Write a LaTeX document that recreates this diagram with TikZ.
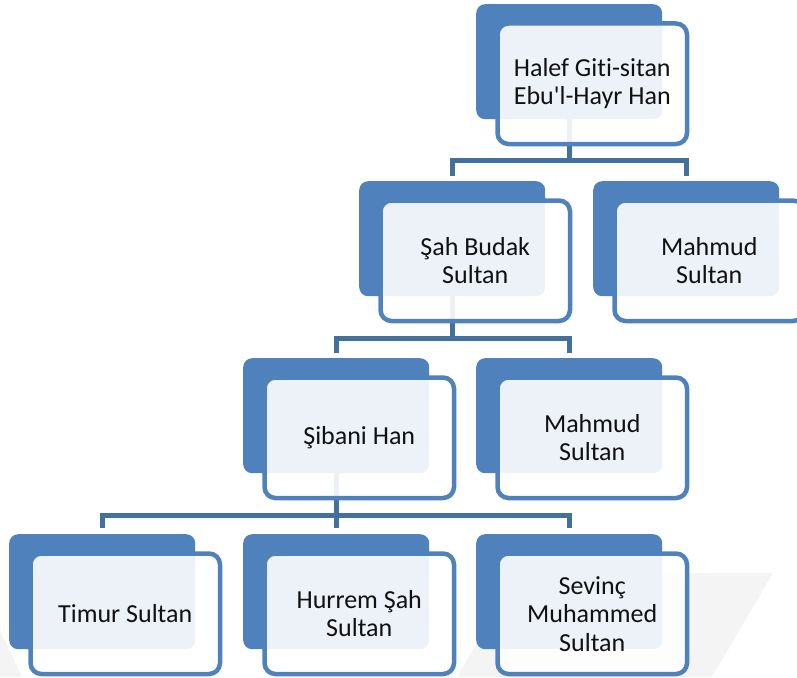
\documentclass[tikz,border=0pt]{standalone}
\usepackage{fontspec}
\setmainfont{Carlito}[Ligatures=CommonOff]
\usetikzlibrary{calc}
\definecolor{acc}{HTML}{4F81BD}
\definecolor{conncol}{HTML}{41719C}
\definecolor{wm}{HTML}{F4F4F4}
\definecolor{txt}{HTML}{111111}
\pgfdeclarelayer{background}
\pgfsetlayers{background,main}
\newcommand\sqapos{\XeTeXglyph\XeTeXcharglyph"0027\relax}
\newcommand\famnode[4]{%
  \node[backbox] (#1) at (#2,#3) {};
  \node[frontbox] (#1f) at ($(#1.north west)+(19.25,17.25)$) {#4};}
\begin{document}
\begin{tikzpicture}[x=1pt,y=-1pt,
  backbox/.style={fill=acc, draw=none, rounded corners=9pt, minimum width=186pt,
    minimum height=115pt, inner sep=0pt, anchor=north west},
  frontbox/.style={draw=acc, line width=4.5pt, fill=white, fill opacity=0.9,
    text opacity=1, text=txt, rounded corners=11pt, minimum width=189.5pt,
    minimum height=120.5pt, inner sep=0pt, anchor=north west, align=center,
    font=\fontsize{26}{28.5}\selectfont},
  conn/.style={draw=conncol, line width=5pt}]
\useasboundingbox (0,0) rectangle (797,677);

\famnode{A}{476}{4}{Halef Giti-sitan\\Ebu\sqapos l-Hayr Han}
\famnode{B}{359}{181}{Şah Budak\\Sultan}
\famnode{C}{593}{181}{Mahmud\\Sultan}
\famnode{D}{243}{358}{Şibani Han}
\famnode{E}{476}{358}{Mahmud\\Sultan}
\famnode{F}{9}{534}{Timur Sultan}
\famnode{G}{243}{534}{Hurrem Şah\\Sultan}
\famnode{H}{476}{534}{\fontsize{26}{29.5}\selectfont Sevinç\\Muhammed\\Sultan}

\begin{pgfonlayer}{background}
  \fill[wm] (457,677) -- (518,573) -- (773,573) -- (712,677) -- cycle;
  \fill[wm] (0,630) -- (22,677) -- (0,677) -- cycle;
  \coordinate (b1) at (0,160);
  \coordinate (b2) at (0,338);
  \coordinate (b3) at (0,515);
  \draw[conn] (A.south) -- (A.south |- b1);
  \draw[conn] ([yshift=5.5pt]B.north) |- (C.north |- b1) -- ([yshift=5.5pt]C.north);
  \draw[conn] (B.south) -- (B.south |- b2);
  \draw[conn] ([yshift=5.5pt]D.north) |- (E.north |- b2) -- ([yshift=5.5pt]E.north);
  \draw[conn] (D.south) -- (D.south |- b3);
  \draw[conn] ([yshift=6pt]F.north) |- (H.north |- b3) -- ([yshift=6pt]H.north);
  \draw[conn] (G.north |- b3) -- ([yshift=6pt]G.north);
\end{pgfonlayer}
\end{tikzpicture}
\end{document}
